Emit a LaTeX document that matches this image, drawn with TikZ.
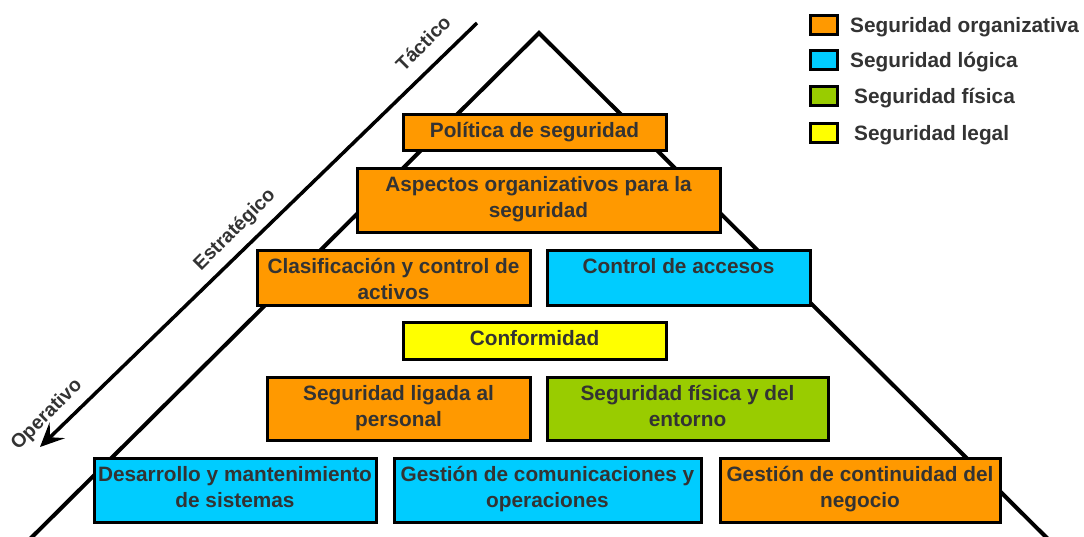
\documentclass[tikz,border=0pt]{standalone}
\usepackage{fontspec}
\setmainfont{Liberation Sans}
\usetikzlibrary{arrows.meta}
\definecolor{orgc}{RGB}{255,153,0}
\definecolor{logc}{RGB}{0,204,255}
\definecolor{fisc}{RGB}{153,204,0}
\definecolor{legc}{RGB}{255,255,0}
\definecolor{txtc}{RGB}{51,51,51}
\newcommand\mkbox[7]{%
  \node[pbox=#6, minimum width=#4pt-#2pt, minimum height=#5pt-#3pt] (#1) at (#2,#3) {};
  \node[btxt] (#1t) at ([yshift=-7.5pt]#1.north) {\rule{0pt}{16pt}#7};}
\begin{document}
\begin{tikzpicture}[x=1pt,y=-1pt,
  pbox/.style={draw=black, line width=3pt, fill=#1, inner sep=0pt, outer sep=0pt, anchor=north west},
  btxt/.style={font=\bfseries\fontsize{20.8}{25.5}\selectfont, text=txtc, align=center, anchor=north, inner sep=0pt},
  swatch/.style={draw=black, line width=3pt, fill=#1, inner sep=0pt, outer sep=0pt, minimum width=27pt, minimum height=19pt},
  legtxt/.style={font=\bfseries\fontsize{20.8}{25}\selectfont, text=txtc, anchor=base west, inner sep=0pt},
  lvl/.style={font=\bfseries\fontsize{19.5}{23}\selectfont, text=txtc, rotate=45, inner sep=0pt},
  thick line/.style={line width=4pt}]
\useasboundingbox (0,0) rectangle (1084,536);
\fill[white] (0,0) rectangle (1084,536);
% pyramid
\begin{scope}
\clip (0,0) rectangle (1084,536);
\coordinate (apex) at (539,33);
\coordinate (bl) at (25,544);
\coordinate (br) at (1053,544);
\draw[thick line, line join=miter] (bl) -- (apex) -- (br);
\end{scope}
% arrow
\coordinate (atop) at (477,23);
\coordinate (atip) at (40,447);
\draw[line width=3.5pt, -{Stealth[length=24pt,width=22pt,inset=10pt]}] (atop) -- (atip);
\node[lvl] (tac) at (423,43) {Táctico};
\node[lvl] (est) at (235,230) {Estratégico};
\node[lvl] (ope) at (47,415) {Operativo};
% boxes
\mkbox{pol}{403}{114}{666}{150}{orgc}{Política de seguridad}
\mkbox{asp}{357}{168}{720}{232}{orgc}{Aspectos organizativos para la\\seguridad}
\mkbox{cla}{257}{250}{530}{305}{orgc}{Clasificación y control de\\activos}
\mkbox{acc}{547}{250}{810}{305}{logc}{Control de accesos}
\mkbox{con}{403}{322}{666}{359}{legc}{Conformidad}
\mkbox{per}{267}{377}{530}{440}{orgc}{Seguridad ligada al\\personal}
\mkbox{ent}{547}{377}{828}{440}{fisc}{Seguridad física y del\\entorno}
\mkbox{des}{94}{458}{376}{522}{logc}{Desarrollo y mantenimiento\\de sistemas}
\mkbox{com}{394}{458}{701}{522}{logc}{Gestión de comunicaciones y\\operaciones}
\mkbox{neg}{720}{458}{1000}{522}{orgc}{Gestión de continuidad del\\negocio}
% legend
\node[swatch=orgc] (s1) at (823.5,24.5) {};
\node[swatch=logc] (s2) at (823.5,60) {};
\node[swatch=fisc] (s3) at (823.5,96) {};
\node[swatch=legc] (s4) at (823.5,133) {};
\node[legtxt] (l1) at (850,32) {Seguridad organizativa};
\node[legtxt] (l2) at (850,67.5) {Seguridad lógica};
\node[legtxt] (l3) at (854,103.5) {Seguridad física};
\node[legtxt] (l4) at (854,140.5) {Seguridad legal};
\end{tikzpicture}
\end{document}
